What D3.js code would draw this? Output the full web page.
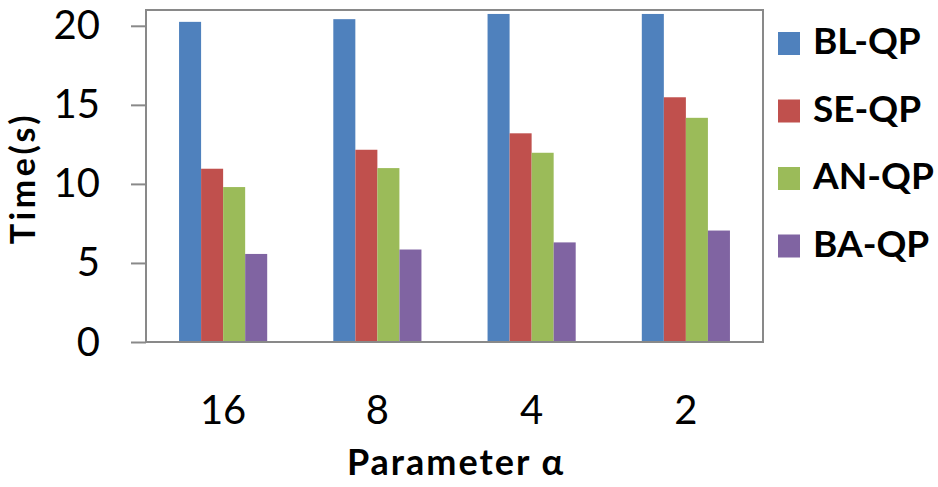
<!DOCTYPE html>
<html>
<head>
  <meta charset="UTF-8">
  <title>Time vs Parameter</title>
  <style>
    body { margin: 0; background: #fff; font-family: Lato, 'Open Sans', sans-serif; }
    .tick text { font-size: 40px; fill: #000; }
    .axis-title { font-weight: bold; }
    .legend text { font-weight: bold; font-size: 37px; }
  </style>
</head>
<body>
<script src="https://cdnjs.cloudflare.com/ajax/libs/d3/7.8.5/d3.min.js"></script>
<script>
// data
var categories = ["16", "8", "4", "2"];
var series = ["BL-QP", "SE-QP", "AN-QP", "BA-QP"];
var blqp = [20.25, 20.42, 20.75, 20.75];
var seqp = [10.96, 12.16, 13.2, 15.48];
var anqp = [9.8, 11.0, 11.97, 14.18];
var baqp = [5.57, 5.85, 6.3, 7.05];
var values = [blqp, seqp, anqp, baqp];
var colors = ["#4F81BD", "#C0504D", "#9BBB59", "#8064A2"];
var yTicks = [0, 5, 10, 15, 20];

var width = 938, height = 487;
var plot = {left: 146, right: 763, top: 10, bottom: 342};

var svg = d3.select("body").append("svg")
    .attr("width", width)
    .attr("height", height);

var x0 = d3.scaleBand().domain(categories).range([plot.left, plot.right]).padding(0);
var x1 = d3.scaleBand().domain(series).range([0, x0.bandwidth()])
    .paddingInner(0).paddingOuter(1.5);
var y = d3.scaleLinear().domain([0, 21]).range([plot.bottom, plot.top]);
var color = d3.scaleOrdinal().domain(series).range(colors);

// bars
var rows = categories.map(function(c, i) {
  return {cat: c, vals: series.map(function(s, j) { return {s: s, v: values[j][i]}; })};
});

svg.append("g").selectAll("g")
  .data(rows)
  .enter().append("g")
    .attr("transform", function(d) { return "translate(" + x0(d.cat) + ",0)"; })
  .selectAll("rect")
  .data(function(d) { return d.vals; })
  .enter().append("rect")
    .attr("x", function(d) { return x1(d.s); })
    .attr("width", x1.bandwidth())
    .attr("y", function(d) { return y(d.v); })
    .attr("height", function(d) { return y(0) - y(d.v); })
    .attr("fill", function(d) { return color(d.s); });

// plot frame
svg.append("rect")
  .attr("x", plot.left).attr("y", plot.top)
  .attr("width", plot.right - plot.left)
  .attr("height", plot.bottom - plot.top)
  .attr("fill", "none")
  .attr("stroke", "#898989")
  .attr("stroke-width", 2);

// y axis
var yAxis = svg.append("g")
  .attr("transform", "translate(" + plot.left + ",0)")
  .call(d3.axisLeft(y).tickValues(yTicks).tickSize(15).tickPadding(31).tickSizeOuter(0));
yAxis.select(".domain").remove();
yAxis.selectAll(".tick line").attr("stroke", "#898989").attr("stroke-width", 2);
yAxis.selectAll(".tick text")
  .attr("font-family", "Lato, sans-serif")
  .attr("dy", null).attr("y", 13);

// x axis
var xAxis = svg.append("g")
  .attr("transform", "translate(0," + plot.bottom + ")")
  .call(d3.axisBottom(x0).tickSize(0).tickSizeOuter(0));
xAxis.select(".domain").remove();
xAxis.selectAll(".tick text")
  .attr("font-family", "Lato, sans-serif")
  .attr("dy", null).attr("y", 82);

// axis titles
svg.append("text")
  .attr("class", "axis-title")
  .attr("x", 456).attr("y", 475)
  .attr("text-anchor", "middle")
  .attr("font-size", 36)
  .attr("letter-spacing", 2)
  .text("Parameter α");

svg.append("text")
  .attr("class", "axis-title")
  .attr("transform", "translate(35,178) rotate(-90)")
  .attr("text-anchor", "middle")
  .attr("font-size", 34)
  .attr("letter-spacing", 3.5)
  .text("Time(s)");

// legend
var legend = svg.append("g").attr("class", "legend")
  .selectAll("g")
  .data(series)
  .enter().append("g")
    .attr("transform", function(d, i) { return "translate(778," + (32 + i * 67.5) + ")"; });

legend.append("rect")
  .attr("width", 22).attr("height", 23)
  .attr("fill", function(d) { return color(d); });

legend.append("text")
  .attr("x", 35).attr("y", 22)
  .text(function(d) { return d; });
</script>
</body>
</html>
